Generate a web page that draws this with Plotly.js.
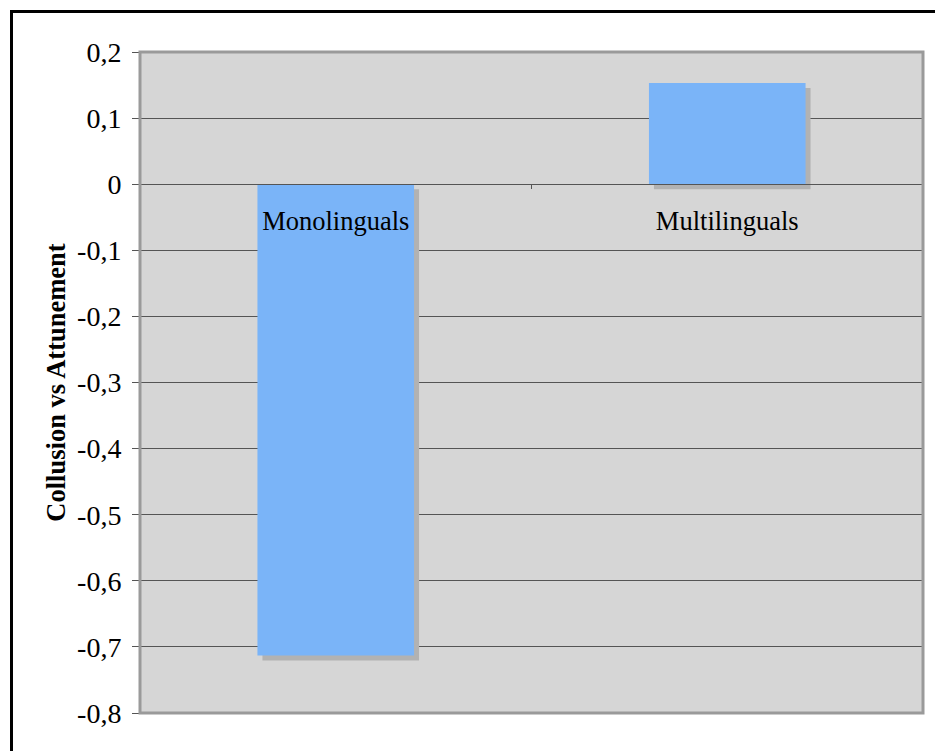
<!DOCTYPE html>
<html>
<head>
<meta charset="utf-8">
<script src="https://cdn.plot.ly/plotly-3.0.1.min.js"></script>
<style>
  html, body { margin: 0; padding: 0; background: #fff; }
  #wrap { position: relative; width: 935px; height: 751px; overflow: hidden; }
  #chart { position: absolute; left: 0; top: 0; width: 935px; height: 751px; }
  #frame { position: absolute; left: 10px; top: 10px; width: 1000px; height: 1000px;
           border-left: 3px solid #000; border-top: 3px solid #000; pointer-events: none; }
</style>
</head>
<body>
<div id="wrap">
  <div id="chart"></div>
  <div id="frame"></div>
</div>
<script>
// Data
const categories = ["Monolinguals", "Multilinguals"];
const values = [-0.713, 0.153];
const yTickValues = [0.2, 0.1, 0, -0.1, -0.2, -0.3, -0.4, -0.5, -0.6, -0.7, -0.8];
const yTickLabels = ["0,2", "0,1", "0", "-0,1", "-0,2", "-0,3", "-0,4", "-0,5", "-0,6", "-0,7", "-0,8"];
const yTitle = "Collusion vs Attunement";

const yRange = [-0.8, 0.2];
const plotH = 751 - 52 - 38;
const plotW = 935 - 140 - 12;
const shadowPx = 5;
const dyShadow = shadowPx / plotH * (yRange[1] - yRange[0]);
const dxShadow = shadowPx / (plotW / categories.length);
const barWidth = 0.4;

const serif = "Liberation Serif, Times New Roman, serif";

const shadow = {
  type: "bar",
  x: categories,
  y: values,
  base: values.map(() => -dyShadow),
  width: barWidth,
  offset: -barWidth / 2 + dxShadow,
  marker: { color: "#b2b2b2", line: { width: 0 } },
  hoverinfo: "skip",
  showlegend: false
};
const bars = {
  type: "bar",
  x: categories,
  y: values,
  width: barWidth,
  offset: -barWidth / 2,
  marker: { color: "#7ab4f8", line: { width: 0 } },
  showlegend: false
};

const layout = {
  width: 935,
  height: 751,
  margin: { l: 140, r: 12, t: 52, b: 38 },
  paper_bgcolor: "#ffffff",
  plot_bgcolor: "#d6d6d6",
  barmode: "overlay",
  showlegend: false,
  font: { family: serif, color: "#000" },
  xaxis: {
    type: "category",
    anchor: "free",
    position: (0 - yRange[0]) / (yRange[1] - yRange[0]),
    showline: true,
    linecolor: "#555",
    linewidth: 1,
    showgrid: false,
    zeroline: false,
    ticks: "outside",
    tickson: "boundaries",
    ticklen: 4,
    tickcolor: "#555",
    tickfont: { family: serif, size: 26.5, color: "#000" },
    ticklabelstandoff: 13,
    range: [-0.5, 1.5],
    fixedrange: true
  },
  yaxis: {
    range: yRange,
    tickvals: yTickValues,
    ticktext: yTickLabels,
    ticks: "outside",
    ticklen: 7,
    tickcolor: "#555",
    tickfont: { family: serif, size: 28, color: "#000" },
    ticklabelstandoff: 5,
    showgrid: true,
    gridcolor: "#555",
    gridwidth: 1,
    zeroline: false,
    showline: false,
    automargin: false,
    title: { text: "<b>" + yTitle + "</b>", font: { family: serif, size: 26.5, color: "#000" }, standoff: 3 },
    fixedrange: true
  },
  shapes: [
    { type: "rect", xref: "paper", yref: "paper", x0: 0, x1: 1, y0: 0, y1: 1,
      line: { color: "#9a9a9a", width: 3 }, layer: "above" }
  ]
};

Plotly.newPlot("chart", [shadow, bars], layout, { displayModeBar: false, staticPlot: true });
</script>
</body>
</html>
